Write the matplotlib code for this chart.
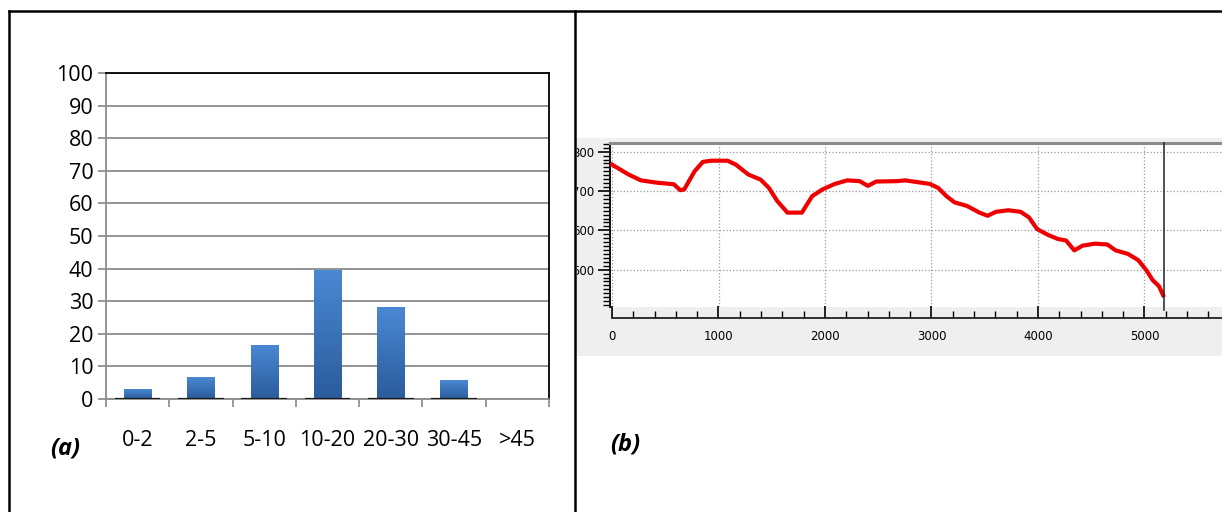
import numpy as np
import matplotlib.pyplot as plt
from matplotlib.colors import LinearSegmentedColormap
from matplotlib.lines import Line2D
from matplotlib.patches import Rectangle
from matplotlib.transforms import Bbox, TransformedBbox

# (a) distribution per class
classes = ['0-2', '2-5', '5-10', '10-20', '20-30', '30-45', '>45']
percent = [2.8, 6.5, 16.4, 39.4, 28.1, 5.6, 0]
y_ticks_a = [0, 10, 20, 30, 40, 50, 60, 70, 80, 90, 100]

# (b) profile
dist = [0, 155, 271, 426, 581, 640, 678, 775, 853, 930, 1085, 1163, 1279,
        1395, 1473, 1550, 1647, 1783, 1880, 1977, 2093, 2209, 2326, 2403,
        2480, 2674, 2752, 2829, 2984, 3062, 3140, 3217, 3333, 3450, 3527,
        3605, 3721, 3837, 3915, 3992, 4089, 4186, 4264, 4341, 4419, 4535,
        4651, 4729, 4845, 4942, 5019, 5078, 5136, 5175]
elev = [767, 742, 727, 721, 717, 702, 704, 750, 774, 777, 777, 767, 742,
        729, 708, 675, 645, 645, 687, 704, 718, 727, 725, 713, 724, 725,
        727, 724, 718, 708, 687, 671, 662, 645, 637, 647, 651, 647, 633,
        603, 589, 578, 574, 549, 561, 566, 564, 549, 540, 524, 498, 473,
        458, 435]
marker_x = 5182
y_ticks_b = [500, 600, 700, 800]
x_ticks_b = [0, 1000, 2000, 3000, 4000, 5000]

W, H = 1222, 512
fig = plt.figure(figsize=(W / 100, H / 100), dpi=100)


def box(x0, y0, x1, y1):
    # pixel box (top-left origin) -> figure rect
    return [x0 / W, 1 - y1 / H, (x1 - x0) / W, (y1 - y0) / H]


# ---------- panel (a) ----------
ax = fig.add_axes(box(106, 73, 549, 399))
pos = np.arange(len(classes))
bars = ax.bar(pos, percent, width=0.43, color='#3a74bf', zorder=3)
cmap = LinearSegmentedColormap.from_list('bl', ['#2b5c9c', '#4a88d2'])
grad = np.linspace(0, 1, 64).reshape(-1, 1)
for b in bars:
    if b.get_height() <= 0:
        continue
    x0, w, h = b.get_x(), b.get_width(), b.get_height()
    ax.imshow(grad, extent=[x0, x0 + w, 0, h], origin='lower',
              cmap=cmap, aspect='auto', zorder=4)
for p, v in zip(pos, percent):
    if v > 0:
        ax.plot([p - 0.36, p + 0.36], [0, 0], color='#1a1a1a', lw=1.6,
                zorder=5, solid_capstyle='butt')
ax.set_xlim(-0.5, len(classes) - 0.5)
ax.set_ylim(0, 100)
ax.set_yticks(y_ticks_a)
ax.set_yticklabels([str(t) for t in y_ticks_a], fontsize=15.5, family='Open Sans')
ax.set_xticks(pos)
ax.set_xticklabels(classes, fontsize=15.5, family='Open Sans')
ax.set_xticks(np.arange(-0.5, len(classes)), minor=True)
ax.tick_params(axis='x', which='major', length=0, pad=22)
ax.tick_params(axis='x', which='minor', length=6, color='#888888', width=1.2)
ax.tick_params(axis='y', length=6, color='#888888', width=1.2, pad=3)
ax.yaxis.grid(True, color='#8a8a8a', lw=1.3, zorder=0)
ax.set_axisbelow(True)
for s in ['left', 'bottom']:
    ax.spines[s].set_color('#8a8a8a')
    ax.spines[s].set_linewidth(1.3)
for s in ['top', 'right']:
    ax.spines[s].set_color('black')
    ax.spines[s].set_linewidth(1.3)

fig.text(65 / W, 1 - 449 / H, '(a)', fontsize=17, fontweight='bold',
         fontstyle='italic', family='Open Sans', ha='center', va='center')
fig.text(625 / W, 1 - 445 / H, '(b)', fontsize=17, fontweight='bold',
         fontstyle='italic', family='Open Sans', ha='center', va='center')

# ---------- panel (b) ----------
fig.patches.append(Rectangle((575 / W, 1 - 356 / H), 1 - 575 / W, 218 / H,
                             transform=fig.transFigure, facecolor='#efefef',
                             edgecolor='none', zorder=-5))

bx = fig.add_axes(box(610, 143, W, 307))
bx.set_facecolor('white')
bx.plot(dist, elev, color='#ee0000', lw=3, zorder=3)
bx.axvline(marker_x, ymin=-0.02, color='#222222', lw=1.1, zorder=4,
           clip_on=False)
bx.set_xlim(-19, 5728)
bx.set_ylim(405, 822)
bx.set_xticks(x_ticks_b)
bx.set_xticklabels([])
bx.tick_params(axis='x', length=0)
bx.set_yticks(y_ticks_b)
bx.set_yticks(np.arange(410, 821, 10), minor=True)
bx.set_yticklabels([str(t) for t in y_ticks_b], fontsize=8.5,
                   family=['Liberation Sans Narrow', 'DejaVu Sans'])
bx.tick_params(axis='y', which='major', length=9, width=1.2, pad=2)
bx.tick_params(axis='y', which='minor', length=5, width=1.0)
bx.grid(True, color='#9a9a9a', lw=0.9, ls=':')
bx.spines['left'].set_color('#111111')
bx.spines['left'].set_linewidth(1.4)
bx.spines['top'].set_color('#8c8c8c')
bx.spines['top'].set_linewidth(2.2)
bx.spines['right'].set_visible(False)
bx.spines['bottom'].set_visible(False)
clip = TransformedBbox(Bbox([[577 / W, 0], [1, 1]]), fig.transFigure)
for lab in bx.get_yticklabels():
    lab.set_clip_on(True)
    lab.set_clip_box(clip)

# separate distance scale below the plot
sx = fig.add_axes(box(612 - 19 * 0.1065, 300, W, 318))
sx.set_facecolor('none')
sx.set_xlim(-19, 5728)
sx.set_ylim(0, 1)
sx.set_yticks([])
for s in ['top', 'right', 'left']:
    sx.spines[s].set_visible(False)
sx.spines['bottom'].set_color('#222222')
sx.spines['bottom'].set_linewidth(1.3)
sx.spines['bottom'].set_bounds(0, 5728)
sx.set_xticks(x_ticks_b)
sx.set_xticklabels([str(t) for t in x_ticks_b], fontsize=8.5,
                   family=['Liberation Sans Narrow', 'DejaVu Sans'])
sx.set_xticks(np.arange(200, 5701, 200), minor=True)
sx.tick_params(axis='x', which='major', direction='in', length=9, width=1.2,
               pad=9)
sx.tick_params(axis='x', which='minor', direction='in', length=5, width=1.0)

# table borders
for (x0, y0, x1, y1) in [(9, 11, W, 11), (9, 11, 9, H), (575, 11, 575, H)]:
    fig.lines.append(Line2D([x0 / W, x1 / W], [1 - y0 / H, 1 - y1 / H],
                            transform=fig.transFigure, color='black', lw=1.8))

fig.savefig('out.png', dpi=100)
